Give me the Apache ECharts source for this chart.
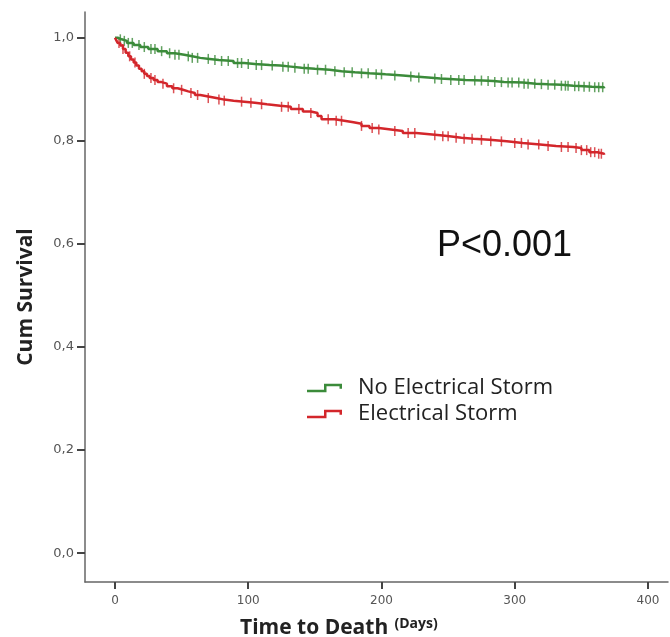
<!DOCTYPE html>
<html>
<head>
<meta charset="utf-8">
<script src="https://cdn.jsdelivr.net/npm/echarts@6/dist/echarts.min.js"></script>
<style>
  html, body { margin: 0; padding: 0; background: #fff; }
  #chart { width: 670px; height: 637px; }
</style>
</head>
<body>
<div id="chart"></div>
<script>
// Kaplan-Meier curves: [day, cumulative survival]
const noStorm = [
  [0, 1.0], [2, 0.997], [5, 0.994], [9, 0.990], [14, 0.986], [19, 0.982], [25, 0.978],
  [32, 0.974], [39, 0.970], [45, 0.967], [52, 0.964], [58, 0.961], [64, 0.959], [71, 0.957],
  [78, 0.955], [89, 0.951], [97, 0.949], [105, 0.947], [116, 0.946], [124, 0.944],
  [132, 0.942], [140, 0.940], [150, 0.938], [161, 0.935], [170, 0.933], [180, 0.931],
  [191, 0.929], [203, 0.927], [216, 0.925], [225, 0.923], [235, 0.921], [244, 0.920],
  [251, 0.918], [263, 0.917], [276, 0.916], [284, 0.914], [292, 0.913], [306, 0.911],
  [316, 0.910], [325, 0.909], [335, 0.907], [344, 0.906], [352, 0.905], [358, 0.904],
  [367, 0.902]
];
const storm = [
  [0, 1.0], [1, 0.995], [2, 0.99], [4, 0.985], [6, 0.978], [8, 0.971], [10, 0.964],
  [12, 0.958], [14, 0.952], [16, 0.946], [18, 0.940], [20, 0.935], [22, 0.930], [24, 0.926],
  [26, 0.922], [29, 0.918], [32, 0.914], [35, 0.911], [39, 0.906], [43, 0.902], [47, 0.899],
  [51, 0.896], [55, 0.893], [60, 0.889], [64, 0.886], [70, 0.883], [76, 0.880], [82, 0.878],
  [89, 0.876], [97, 0.874], [105, 0.871], [114, 0.868], [124, 0.866], [132, 0.862],
  [141, 0.857], [147, 0.854], [152, 0.848], [155, 0.842], [165, 0.839], [172, 0.836],
  [179, 0.833], [185, 0.829], [191, 0.825], [198, 0.822], [207, 0.819], [216, 0.815],
  [226, 0.813], [236, 0.811], [244, 0.809], [251, 0.806], [260, 0.804], [269, 0.802],
  [281, 0.799], [294, 0.796], [306, 0.793], [319, 0.790], [331, 0.788], [344, 0.786],
  [350, 0.782], [356, 0.778], [362, 0.775], [367, 0.773]
];
// censored observations (tick marks)
const noStormCensored = [4, 7, 10, 13, 18, 22, 27, 30, 35, 41, 45, 48, 55, 58, 62, 70, 75, 80,
  85, 92, 95, 100, 106, 110, 118, 126, 130, 135, 142, 145, 152, 158, 165, 172, 178, 185, 190,
  196, 200, 210, 222, 228, 240, 245, 252, 258, 262, 270, 275, 280, 285, 290, 295, 298, 303,
  307, 310, 315, 320, 325, 330, 335, 338, 340, 345, 348, 352, 356, 360, 363, 366];
const stormCensored = [3, 6, 11, 15, 22, 27, 30, 36, 44, 50, 57, 62, 70, 78, 82, 95, 102,
  110, 125, 130, 138, 147, 160, 166, 170, 185, 193, 198, 210, 220, 225, 240, 246, 250, 256,
  262, 268, 275, 282, 290, 300, 305, 310, 318, 325, 335, 340, 346, 350, 354, 357, 360, 363, 365];
const xTicks = [0, 100, 200, 300, 400];
const yTicks = [0, 0.2, 0.4, 0.6, 0.8, 1.0];
const seriesNames = ['No Electrical Storm', 'Electrical Storm'];

const green = '#3b8b3a';
const red = '#d3262b';

function survivalAt(curve, t) {
  let s = curve[0][1];
  for (const p of curve) {
    if (p[0] <= t) s = p[1];
  }
  return s;
}

// step-shaped legend icon, the far point only widens the box so text sits further right
const stepIcon = 'path://M0,6 L17,6 L17,0 L35,0 L35,5 L32.5,5 L32.5,2.5 L19.5,2.5 L19.5,8.5 L0,8.5 Z M46,0 L46,0.05 L45.95,0 Z';

let chart = echarts.init(document.getElementById('chart'));
let option = {
  animation: false,
  grid: { left: 85, right: 2, top: 12, bottom: 55 },
  xAxis: {
    type: 'value',
    min: -22.5,
    max: 415,
    splitLine: { show: false },
    axisLine: { show: true, onZero: false, lineStyle: { color: '#666', width: 1.5 } },
    axisTick: { show: true, inside: false, customValues: xTicks, length: 7, lineStyle: { color: '#444', width: 2 } },
    axisLabel: {
      customValues: xTicks,
      color: '#555',
      fontFamily: 'DejaVu Sans',
      fontSize: 12,
      margin: 13
    }
  },
  yAxis: {
    type: 'value',
    min: -0.056,
    max: 1.05,
    splitLine: { show: false },
    axisLine: { show: true, onZero: false, lineStyle: { color: '#666', width: 1.5 } },
    axisTick: { show: true, inside: false, customValues: yTicks, length: 8, lineStyle: { color: '#444', width: 2 } },
    axisLabel: {
      customValues: yTicks,
      color: '#555',
      fontFamily: 'DejaVu Sans',
      fontSize: 13,
      margin: 11,
      formatter: v => v.toFixed(1).replace('.', ',')
    },
    name: 'Cum Survival',
    nameLocation: 'middle',
    nameGap: 48,
    nameTextStyle: { fontFamily: 'Open Sans', fontWeight: 'bold', fontSize: 21, color: '#222' }
  },
  legend: {
    orient: 'vertical',
    left: 302,
    top: 372,
    itemWidth: 46,
    itemHeight: 8.5,
    itemGap: 4,
    data: seriesNames.map(n => ({ name: n, icon: stepIcon })),
    textStyle: { fontFamily: 'Open Sans', fontSize: 22, color: '#222' }
  },
  graphic: [
    {
      type: 'text', left: 437, top: 228,
      style: { text: 'P<0.001', font: '36px "Liberation Sans"', fill: '#111' }
    },
    {
      type: 'text', left: 240, top: 617,
      style: {
        text: '{a|Time to Death} {b|(Days)}',
        rich: {
          a: { font: 'bold 21px "Open Sans"', fill: '#222' },
          b: { font: 'bold 14px "Open Sans"', fill: '#222', padding: [0, 0, 8, 3] }
        }
      }
    }
  ],
  series: [
    {
      name: seriesNames[0], type: 'line', step: 'end', data: noStorm,
      showSymbol: false, color: green, lineStyle: { width: 2.5, color: green }
    },
    {
      name: seriesNames[1], type: 'line', step: 'end', data: storm,
      showSymbol: false, color: red, lineStyle: { width: 2.5, color: red }
    },
    {
      name: seriesNames[0], type: 'scatter', symbol: 'rect', symbolSize: [1.5, 10],
      itemStyle: { color: green },
      data: noStormCensored.map(t => [t, survivalAt(noStorm, t)])
    },
    {
      name: seriesNames[1], type: 'scatter', symbol: 'rect', symbolSize: [1.5, 10],
      itemStyle: { color: red },
      data: stormCensored.map(t => [t, survivalAt(storm, t)])
    }
  ]
};
chart.setOption(option);
</script>
</body>
</html>
